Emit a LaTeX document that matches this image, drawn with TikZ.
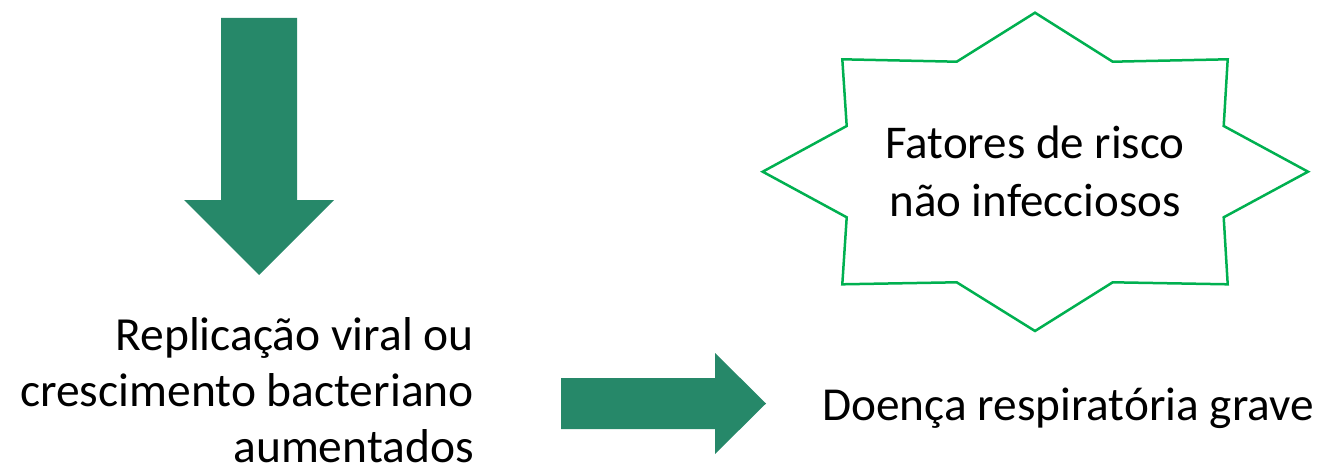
\documentclass[tikz,border=0pt]{standalone}
\usepackage{fontspec}
\setmainfont{Carlito}
\definecolor{arrowgreen}{RGB}{38,136,105}
\definecolor{stargreen}{RGB}{0,176,80}
\tikzset{
  blockarrow/.style={fill=arrowgreen, draw=none},
  starline/.style={draw=stargreen, line width=2.5pt, line join=miter, fill=white},
  label/.style={inner sep=0pt, font=\fontsize{47.5}{56}\selectfont},
}
\begin{document}
\begin{tikzpicture}[x=1pt,y=-1pt]
\useasboundingbox (0,0) rectangle (1322,468);
% down arrow
\fill[blockarrow] (221,18) -- (297,18) -- (297,200) -- (334,200) -- (259,275) -- (184,200) -- (221,200) -- cycle;
% right arrow
\fill[blockarrow] (561,378) -- (715,378) -- (715,353) -- (766,403.5) -- (715,454) -- (715,429) -- (561,429) -- cycle;
% star
\draw[starline] (1035,12.7) -- (1112.7,61.7) -- (1227.7,59.3) -- (1223.7,126) -- (1308,171.7) -- (1223.7,217.3) -- (1227.7,284.3) -- (1112.7,282.3) -- (1035,331) -- (956.7,282.3) -- (842.3,284.3) -- (846.7,217.3) -- (762.7,171.7) -- (846.7,126) -- (842.3,59.3) -- (956.7,61.7) -- cycle;
\node[label, align=center, anchor=base, font=\fontsize{47}{58}\selectfont] (risk) at (1035,216.7) {Fatores de risco\\não infecciosos};
\node[label, align=right, anchor=base east] (repl) at (474,462) {Replicação viral ou\\crescimento bacteriano\\aumentados};
\node[label, anchor=base west, font=\fontsize{47.3}{56}\selectfont] (disease) at (822,420) {Doença respiratória grave};
\end{tikzpicture}
\end{document}
